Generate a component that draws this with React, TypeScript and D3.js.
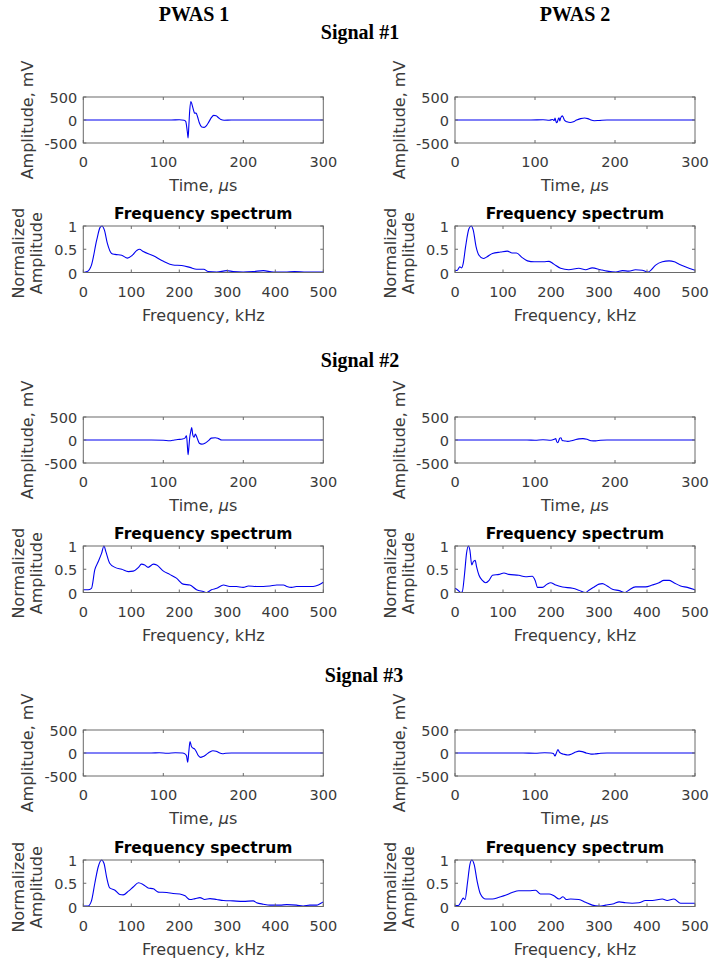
import React from "react";
import * as d3 from "d3";

// ---------- axis ticks ----------
const timeTicks = [0, 100, 200, 300];
const ampTicks = [-500, 0, 500];
const freqTicks = [0, 100, 200, 300, 400, 500];
const normTicks = [0, 0.5, 1];

const columnTitles = ["PWAS 1", "PWAS 2"];
const signalTitles = ["Signal #1", "Signal #2", "Signal #3"];

// ---------- time signals [time (µs), amplitude (mV)] ----------
const sig1Pwas1: [number, number][] = [
  [0, 0], [110, 0], [120, 5], [126, -5], [128, -30], [130, -250], [131, -390], [132, -100],
  [133, 200], [134.5, 400], [136, 330], [138, 200], [139, 150], [141, 150], [143, 60],
  [145, -60], [148, -150], [151, -160], [154, -120], [157, -40], [160, 50], [163, 100],
  [166, 90], [169, 50], [172, 10], [176, -5], [185, 0], [300, 0],
];
const sig1Pwas2: [number, number][] = [
  [0, 0], [95, 0], [110, 5], [118, -5], [122, 10], [124, -10], [125, 40], [126, -20],
  [127, -60], [128, -40], [129, 20], [130, 50], [131, -20], [132, 40], [134, 90], [135, 70],
  [137, -10], [140, -40], [144, -55], [148, -40], [152, 0], [157, 30], [162, 45], [166, 30],
  [170, 0], [174, -15], [180, -10], [190, 0], [300, 0],
];
const sig2Pwas1: [number, number][] = [
  [0, 0], [85, 0], [100, -5], [108, -15], [112, -5], [118, 10], [124, 20], [127, 40],
  [129, 90], [130, -100], [131, -320], [132, -150], [133, 50], [134.5, 200], [135.5, 270],
  [137, 100], [138.5, 60], [140, 130], [141.5, 80], [143, 10], [145, -70], [148, -90],
  [152, -70], [156, -20], [160, 40], [165, 50], [169, 30], [173, 0], [180, 0], [300, 0],
];
const sig2Pwas2: [number, number][] = [
  [0, 0], [90, 0], [100, -5], [110, 5], [120, -5], [124, 15], [126, 30], [127, -30],
  [128.5, -60], [130, 0], [131, 40], [132.5, 50], [134, -10], [137, -20], [141, -30],
  [146, -15], [150, 5], [155, 25], [160, 30], [165, 15], [170, -15], [176, -20], [182, -5],
  [190, 0], [300, 0],
];
const sig3Pwas1: [number, number][] = [
  [0, 0], [85, 0], [95, 5], [105, -5], [115, 5], [124, 0], [127, -20], [129, -60],
  [130.5, -200], [132, 50], [133.4, 250], [135, 150], [136.6, 110], [139, 90], [141, 40],
  [143.5, -50], [146.5, -95], [150, -75], [154, -30], [158, 20], [162, 50], [166, 40],
  [170, 5], [174, -15], [178, -5], [185, 0], [300, 0],
];
const sig3Pwas2: [number, number][] = [
  [0, 0], [85, 0], [100, -5], [112, 5], [120, 0], [123, -10], [125, -65], [126.5, -10],
  [128.7, 75], [130.5, 20], [133, -10], [137, -30], [141, -45], [146, -20], [151, 20],
  [155, 40], [159, 30], [164, 0], [170, -25], [175, -20], [182, -5], [190, 0], [300, 0],
];

// ---------- spectra [frequency (kHz), normalized amplitude] ----------
const spec1Pwas1: [number, number][] = [
  [0, 0], [8, 0.02], [17, 0.16], [28, 0.7], [35, 0.97], [39, 1.0], [44, 0.91], [50, 0.63],
  [59, 0.41], [66, 0.39], [80, 0.37], [92, 0.31], [101, 0.36], [111, 0.47], [117, 0.5],
  [125, 0.45], [146, 0.36], [167, 0.24], [187, 0.16], [205, 0.15], [222, 0.11], [236, 0.07],
  [251, 0.07], [260, 0.02], [278, 0.01], [299, 0.04], [312, 0.02], [333, 0.01], [354, 0.02],
  [375, 0.04], [396, 0.01], [420, 0.01], [440, 0.02], [465, 0.01], [500, 0.01],
];
const spec1Pwas2: [number, number][] = [
  [0, 0.04], [5, 0.05], [10, 0.12], [14, 0.1], [17, 0.19], [22, 0.55], [29, 0.94], [34, 1.0],
  [38, 0.91], [44, 0.55], [50, 0.37], [59, 0.3], [67, 0.34], [78, 0.41], [95, 0.44],
  [109, 0.46], [119, 0.42], [128, 0.42], [140, 0.32], [151, 0.25], [165, 0.23], [185, 0.23],
  [196, 0.24], [206, 0.18], [220, 0.09], [237, 0.06], [258, 0.09], [272, 0.06], [286, 0.1],
  [303, 0.06], [317, 0.03], [335, 0.01], [349, 0.04], [362, 0.03], [376, 0.06], [390, 0.05],
  [401, 0.01], [406, 0.03], [418, 0.16], [432, 0.23], [446, 0.25], [457, 0.23], [467, 0.18],
  [481, 0.12], [500, 0.05],
];
const spec2Pwas1: [number, number][] = [
  [0, 0.06], [10, 0.06], [17, 0.09], [24, 0.49], [31, 0.66], [38, 0.84], [43, 1.0], [47, 0.88],
  [55, 0.63], [66, 0.54], [80, 0.5], [94, 0.45], [104, 0.46], [115, 0.54], [121, 0.61],
  [128, 0.59], [135, 0.54], [146, 0.61], [153, 0.59], [167, 0.46], [180, 0.39], [194, 0.31],
  [208, 0.18], [222, 0.16], [236, 0.06], [250, 0.02], [257, 0.0], [267, 0.06], [278, 0.09],
  [292, 0.16], [305, 0.13], [319, 0.13], [333, 0.11], [344, 0.14], [361, 0.13], [375, 0.13],
  [389, 0.14], [403, 0.16], [417, 0.16], [424, 0.13], [434, 0.11], [444, 0.13], [465, 0.13],
  [479, 0.13], [490, 0.16], [500, 0.22],
];
const spec2Pwas2: [number, number][] = [
  [0, 0.09], [5, 0.06], [12, 0.0], [15, 0.01], [20, 0.41], [24, 0.84], [28, 1.0], [31, 0.91],
  [35, 0.59], [38, 0.66], [42, 0.69], [45, 0.55], [50, 0.37], [57, 0.26], [64, 0.21],
  [71, 0.26], [78, 0.37], [92, 0.39], [102, 0.42], [112, 0.39], [133, 0.37], [147, 0.34],
  [161, 0.35], [167, 0.26], [172, 0.11], [182, 0.11], [192, 0.18], [199, 0.21], [210, 0.16],
  [224, 0.12], [245, 0.09], [258, 0.05], [272, 0.0], [279, 0.05], [290, 0.12], [300, 0.18],
  [307, 0.19], [317, 0.14], [328, 0.07], [342, 0.04], [354, 0.0], [362, 0.05], [376, 0.12],
  [397, 0.12], [411, 0.16], [425, 0.21], [435, 0.26], [446, 0.26], [456, 0.21], [470, 0.14],
  [484, 0.11], [500, 0.06],
];
const spec3Pwas1: [number, number][] = [
  [0, 0.01], [10, 0.01], [17, 0.12], [24, 0.5], [31, 0.85], [38, 1.0], [43, 0.93], [49, 0.61],
  [55, 0.4], [66, 0.35], [76, 0.26], [83, 0.25], [94, 0.33], [104, 0.42], [115, 0.51],
  [125, 0.47], [135, 0.4], [146, 0.38], [156, 0.31], [174, 0.3], [187, 0.28], [201, 0.27],
  [212, 0.23], [222, 0.15], [233, 0.17], [243, 0.19], [253, 0.15], [264, 0.17], [278, 0.15],
  [292, 0.13], [312, 0.12], [333, 0.11], [354, 0.12], [361, 0.08], [375, 0.05], [389, 0.03],
  [410, 0.03], [424, 0.04], [444, 0.03], [458, 0.01], [472, 0.03], [486, 0.03], [493, 0.06],
  [500, 0.1],
];
const spec3Pwas2: [number, number][] = [
  [0, 0.02], [7, 0.02], [12, 0.09], [17, 0.18], [21, 0.15], [26, 0.51], [31, 0.9], [35, 1.0],
  [40, 0.9], [46, 0.55], [53, 0.27], [64, 0.16], [78, 0.16], [92, 0.2], [105, 0.24],
  [119, 0.3], [133, 0.34], [154, 0.34], [168, 0.35], [178, 0.27], [185, 0.27], [196, 0.27],
  [206, 0.23], [217, 0.16], [225, 0.21], [232, 0.15], [241, 0.16], [258, 0.15], [272, 0.09],
  [286, 0.03], [300, 0.01], [314, 0.03], [331, 0.06], [342, 0.1], [355, 0.08], [369, 0.07],
  [383, 0.08], [397, 0.13], [411, 0.13], [432, 0.16], [442, 0.13], [456, 0.16], [470, 0.07],
  [484, 0.07], [500, 0.07],
];

const timeSignals = [
  [sig1Pwas1, sig1Pwas2],
  [sig2Pwas1, sig2Pwas2],
  [sig3Pwas1, sig3Pwas2],
];
const spectra = [
  [spec1Pwas1, spec1Pwas2],
  [spec2Pwas1, spec2Pwas2],
  [spec3Pwas1, spec3Pwas2],
];

// ---------- layout ----------
const W = 712;
const H = 965;
const colX = [83.3, 455];
const boxW = 240;
const timeTop = [97, 417, 730];
const specTop = [226, 546, 860];
const timeH = 46;
const specH = 46.5;
const signalTitleY = [39, 367, 682];
const signalTitleX = [360, 360, 364];
const colTitleX = [194, 575];

const SANS = "'DejaVu Sans', sans-serif";
const SERIF = "'Liberation Serif', 'Times New Roman', serif";
const AXIS = "#6a6a6a";
const TXT = "#3a3a3a";
const LINE = "#0000f0";

type PanelProps = {
  x: number;
  y: number;
  h: number;
  xDomain: [number, number];
  yDomain: [number, number];
  xTicks: number[];
  yTicks: number[];
  data: [number, number][];
  xLabel: React.ReactNode;
  yLabels: string[];
  title?: string;
};

function fmt(v: number) {
  return String(v);
}

function Panel({ x, y, h, xDomain, yDomain, xTicks, yTicks, data, xLabel, yLabels, title }: PanelProps) {
  const xs = d3.scaleLinear().domain(xDomain).range([x, x + boxW]);
  const ys = d3.scaleLinear().domain(yDomain).range([y + h, y]);
  const line = d3
    .line<[number, number]>()
    .x((d) => xs(d[0]))
    .y((d) => ys(d[1]))
    .curve(d3.curveMonotoneX);
  const tl = 3;
  const cy = y + h / 2;
  return (
    <g>
      <path d={line(data) || ""} fill="none" stroke={LINE} strokeWidth={1.1} />
      <rect x={x} y={y} width={boxW} height={h} fill="none" stroke={AXIS} strokeWidth={1} />
      {xTicks.map((t) => (
        <g key={"x" + t}>
          <line x1={xs(t)} x2={xs(t)} y1={y + h} y2={y + h - tl} stroke={AXIS} />
          <line x1={xs(t)} x2={xs(t)} y1={y} y2={y + tl} stroke={AXIS} />
          <text x={xs(t)} y={y + h + 24} textAnchor="middle" fontFamily={SANS} fontSize={14.5} fill={TXT}>
            {fmt(t)}
          </text>
        </g>
      ))}
      {yTicks.map((t) => (
        <g key={"y" + t}>
          <line x1={x} x2={x + tl} y1={ys(t)} y2={ys(t)} stroke={AXIS} />
          <line x1={x + boxW} x2={x + boxW - tl} y1={ys(t)} y2={ys(t)} stroke={AXIS} />
          <text x={x - 6} y={ys(t) + 6} textAnchor="end" fontFamily={SANS} fontSize={14.5} fill={TXT}>
            {fmt(t)}
          </text>
        </g>
      ))}
      <text x={x + boxW / 2} y={y + h + 48} textAnchor="middle" fontFamily={SANS} fontSize={16} fill={TXT}>
        {xLabel}
      </text>
      {yLabels.length === 1 ? (
        <text
          transform={`translate(${x - 50},${cy}) rotate(-90)`}
          textAnchor="middle"
          fontFamily={SANS}
          fontSize={16}
          fill={TXT}
        >
          {yLabels[0]}
        </text>
      ) : (
        yLabels.map((lab, i) => (
          <text
            key={lab}
            transform={`translate(${x - 59 + i * 18},${cy + 4}) rotate(-90)`}
            textAnchor="middle"
            fontFamily={SANS}
            fontSize={16}
            fill={TXT}
          >
            {lab}
          </text>
        ))
      )}
      {title && (
        <text x={x + boxW / 2} y={y - 7} textAnchor="middle" fontFamily={SANS} fontWeight="bold" fontSize={15.5} fill="#000">
          {title}
        </text>
      )}
    </g>
  );
}

export default function App() {
  const timeLabel = (
    <>
      <tspan>Time, </tspan>
      <tspan fontStyle="italic">μ</tspan>
      <tspan>s</tspan>
    </>
  );
  return (
    <svg
      width={W}
      height={H}
      style={{ position: "absolute", left: 0, top: 0, background: "#fff" }}
    >
      <rect x={0} y={0} width={W} height={H} fill="#fff" />
      {columnTitles.map((t, i) => (
        <text key={t} x={colTitleX[i]} y={21} textAnchor="middle" fontFamily={SERIF} fontWeight="bold" fontSize={20}>
          {t}
        </text>
      ))}
      {signalTitles.map((t, r) => (
        <text key={t} x={signalTitleX[r]} y={signalTitleY[r]} textAnchor="middle" fontFamily={SERIF} fontWeight="bold" fontSize={20}>
          {t}
        </text>
      ))}
      {[0, 1, 2].map((r) =>
        [0, 1].map((c) => (
          <g key={`${r}-${c}`}>
            <Panel
              x={colX[c]}
              y={timeTop[r]}
              h={timeH}
              xDomain={[0, 300]}
              yDomain={[-500, 500]}
              xTicks={timeTicks}
              yTicks={ampTicks}
              data={timeSignals[r][c]}
              xLabel={timeLabel}
              yLabels={["Amplitude, mV"]}
            />
            <Panel
              x={colX[c]}
              y={specTop[r]}
              h={specH}
              xDomain={[0, 500]}
              yDomain={[0, 1]}
              xTicks={freqTicks}
              yTicks={normTicks}
              data={spectra[r][c]}
              xLabel="Frequency, kHz"
              yLabels={["Normalized", "Amplitude"]}
              title="Frequency spectrum"
            />
          </g>
        ))
      )}
    </svg>
  );
}
